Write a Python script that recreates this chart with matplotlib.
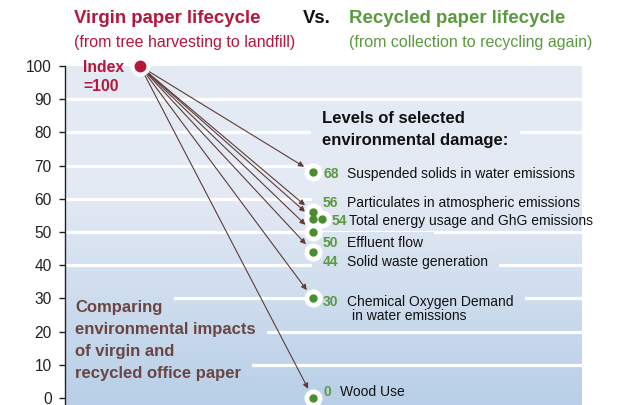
import numpy as np
import matplotlib
matplotlib.use("Agg")
import matplotlib.pyplot as plt
from matplotlib.patches import Rectangle

plt.rcParams['font.family'] = ['Liberation Sans', 'DejaVu Sans']

# ---------------- data ----------------
index_value = 100
values = [68, 56, 54, 50, 44, 30, 0]
labels = ["Suspended solids in water emissions",
          "Particulates in atmospheric emissions",
          "Total energy usage and GhG emissions",
          "Effluent flow",
          "Solid waste generation",
          "Chemical Oxygen Demand\nin water emissions",
          "Wood Use"]
yticks = [0, 10, 20, 30, 40, 50, 60, 70, 80, 90, 100]
title_left = "Virgin paper lifecycle"
sub_left = "(from tree harvesting to landfill)"
title_right = "Recycled paper lifecycle"
sub_right = "(from collection to recycling again)"
levels_text = ["Levels of selected", "environmental damage:"]
comparing_text = ["Comparing", "environmental impacts", "of virgin and", "recycled office paper"]

# ---------------- style ----------------
RED = '#b8153a'
GREEN = '#5a9a3e'
DOTGREEN = '#4b8c30'
BROWN = '#5e3c37'
TXTBROWN = '#6a4541'

W, H = 631, 405
fig = plt.figure(figsize=(W / 100, H / 100), dpi=100)
AX_L, AX_R, AX_T = 65, 582, 66
YMIN = -2.1
ax = fig.add_axes([AX_L / W, 0, (AX_R - AX_L) / W, 1 - AX_T / H])
ax.set_xlim(0, AX_R - AX_L)
ax.set_ylim(YMIN, 100)
ppu = (H - AX_T) / (100 - YMIN)  # pixels per unit


def py(ypx):
    """image pixel row -> data value"""
    return 100 - (ypx - AX_T) / ppu


def px(xpx):
    return xpx - AX_L


# background gradient
top = np.array([0.894, 0.918, 0.957])
bot = np.array([0.722, 0.812, 0.906])
vv = np.linspace(100, YMIN, 400)
t = np.clip((62 - vv) / (62 - YMIN), 0, 1)[:, None]
grad = (top * (1 - t) + bot * t)[:, None, :]
EXT = (0, AX_R - AX_L, YMIN, 100)
ax.imshow(grad, extent=EXT, aspect='auto', zorder=0, interpolation='bilinear')

# gridlines (no line at 0 or 100)
for g in yticks[1:-1]:
    ax.axhline(g, color='white', lw=2.3, zorder=1)

# axis
for s in ['top', 'right', 'bottom']:
    ax.spines[s].set_visible(False)
ax.spines['left'].set_color('#222222')
ax.spines['left'].set_linewidth(1.0)
ax.spines['left'].set_zorder(2.5)
ax.set_xticks([])
ax.set_yticks(yticks)
ax.set_yticklabels([str(v) for v in yticks])
ax.tick_params(axis='y', direction='out', length=4.5, width=1, pad=5,
               labelsize=11.2, colors='#222222')

# positions
IX = px(140)
DX = px(313)

# index point
ax.plot([IX], [index_value], 'o', ms=13.5, color='white', zorder=4, clip_on=False)
ax.plot([IX], [index_value], 'o', ms=7.5, color=RED, zorder=5, clip_on=False)
ax.annotate("Index", xy=(IX, index_value), xytext=(-57, -5.7), textcoords='offset pixels',
            ha='left', va='baseline', fontsize=11.3, fontweight='bold', color=RED,
            zorder=6, annotation_clip=False)
ax.annotate("=100", xy=(IX, index_value), xytext=(-57, -25), textcoords='offset pixels',
            ha='left', va='baseline', fontsize=11.3, fontweight='bold', color=RED,
            zorder=6, annotation_clip=False)

# label offsets (pixels, down positive)
base_dy = {68: 5.5, 56: -4.7, 54: 6.0, 50: 14.5, 44: 14.5, 30: 7.5, 0: -2}
num_shift = {54: 9}
desc_shift = {54: 2}

mask_groups = []
for v, lab in zip(values, labels):
    ax.annotate('', xy=(DX, v), xytext=(IX, index_value),
                arrowprops=dict(arrowstyle='-|>', color=BROWN, lw=0.8,
                                shrinkA=6, shrinkB=7.5, mutation_scale=8),
                zorder=3, annotation_clip=False)
    ax.plot([DX], [v], 'o', ms=12, color='white', zorder=4, clip_on=False)
    ax.plot([DX], [v], 'o', ms=5, color=DOTGREEN, zorder=5, clip_on=False)
    ns = num_shift.get(v, 0)
    if ns:
        ax.plot([DX + ns], [v], 'o', ms=12, color='white', zorder=4, clip_on=False)
        ax.plot([DX + ns], [v], 'o', ms=5, color=DOTGREEN, zorder=5, clip_on=False)
    dy = base_dy.get(v, 5)
    nstr = str(v)
    tn = ax.annotate(nstr, xy=(DX, v), xytext=(10 + ns, -dy), textcoords='offset pixels',
                     ha='left', va='baseline', fontsize=10, fontweight='bold', color=GREEN,
                     zorder=6, annotation_clip=False)
    dd = 10 + 7 * len(nstr) + 10 + desc_shift.get(v, 0)
    lines = lab.split('\n')
    td = ax.annotate(lines[0], xy=(DX, v), xytext=(dd, -dy), textcoords='offset pixels',
                     ha='left', va='baseline', fontsize=10, color='#111111',
                     zorder=6, annotation_clip=False)
    for k, extra in enumerate(lines[1:], start=1):
        ax.annotate(extra, xy=(DX, v), xytext=(dd + 5, -dy - 14 * k), textcoords='offset pixels',
                    ha='left', va='baseline', fontsize=10, color='#111111',
                    zorder=6, annotation_clip=False)
    if v != 54:
        mask_groups.append([tn, td])

# levels text
for k, line in enumerate(levels_text):
    t_ = ax.text(px(322), py(123 + 22 * k), line, ha='left', va='baseline',
                 fontsize=12, fontweight='bold', color='#111111', zorder=6)
    mask_groups.append([t_])

# comparing text
for k, line in enumerate(comparing_text):
    t_ = ax.text(px(75), py(312 + 22 * k), line, ha='left', va='baseline',
                 fontsize=12, fontweight='bold', color=TXTBROWN, zorder=6)
    mask_groups.append([t_])

# titles
fig.text(74 / W, 1 - 23 / H, title_left, ha='left', va='baseline', fontsize=13.4,
         fontweight='bold', color=RED)
fig.text(74 / W, 1 - 46.5 / H, sub_left, ha='left', va='baseline', fontsize=11.5, color=RED)
fig.text(303 / W, 1 - 23 / H, "Vs.", ha='left', va='baseline', fontsize=13.4,
         fontweight='bold', color='#111111')
fig.text(349 / W, 1 - 23 / H, title_right, ha='left', va='baseline', fontsize=13.4,
         fontweight='bold', color=GREEN)
fig.text(349 / W, 1 - 46.5 / H, sub_right, ha='left', va='baseline', fontsize=11.5, color=GREEN)

# masks that interrupt gridlines behind text (same gradient, clipped)
fig.canvas.draw()
renderer = fig.canvas.get_renderer()
inv = ax.transData.inverted()
PADX, PADY = 11, 4
for grp in mask_groups:
    bbs = [g.get_window_extent(renderer) for g in grp]
    x0 = min(b.x0 for b in bbs) - PADX
    x1 = max(b.x1 for b in bbs) + PADX
    y0 = min(b.y0 for b in bbs) - PADY
    y1 = max(b.y1 for b in bbs) + PADY
    (dx0, dy0), (dx1, dy1) = inv.transform([[x0, y0], [x1, y1]])
    rect = Rectangle((dx0, dy0), dx1 - dx0, dy1 - dy0, transform=ax.transData)
    im = ax.imshow(grad, extent=EXT, aspect='auto', zorder=1.5, interpolation='bilinear')
    im.set_clip_path(rect)

ax.set_xlim(0, AX_R - AX_L)
ax.set_ylim(YMIN, 100)

fig.savefig('out.png', dpi=100)
